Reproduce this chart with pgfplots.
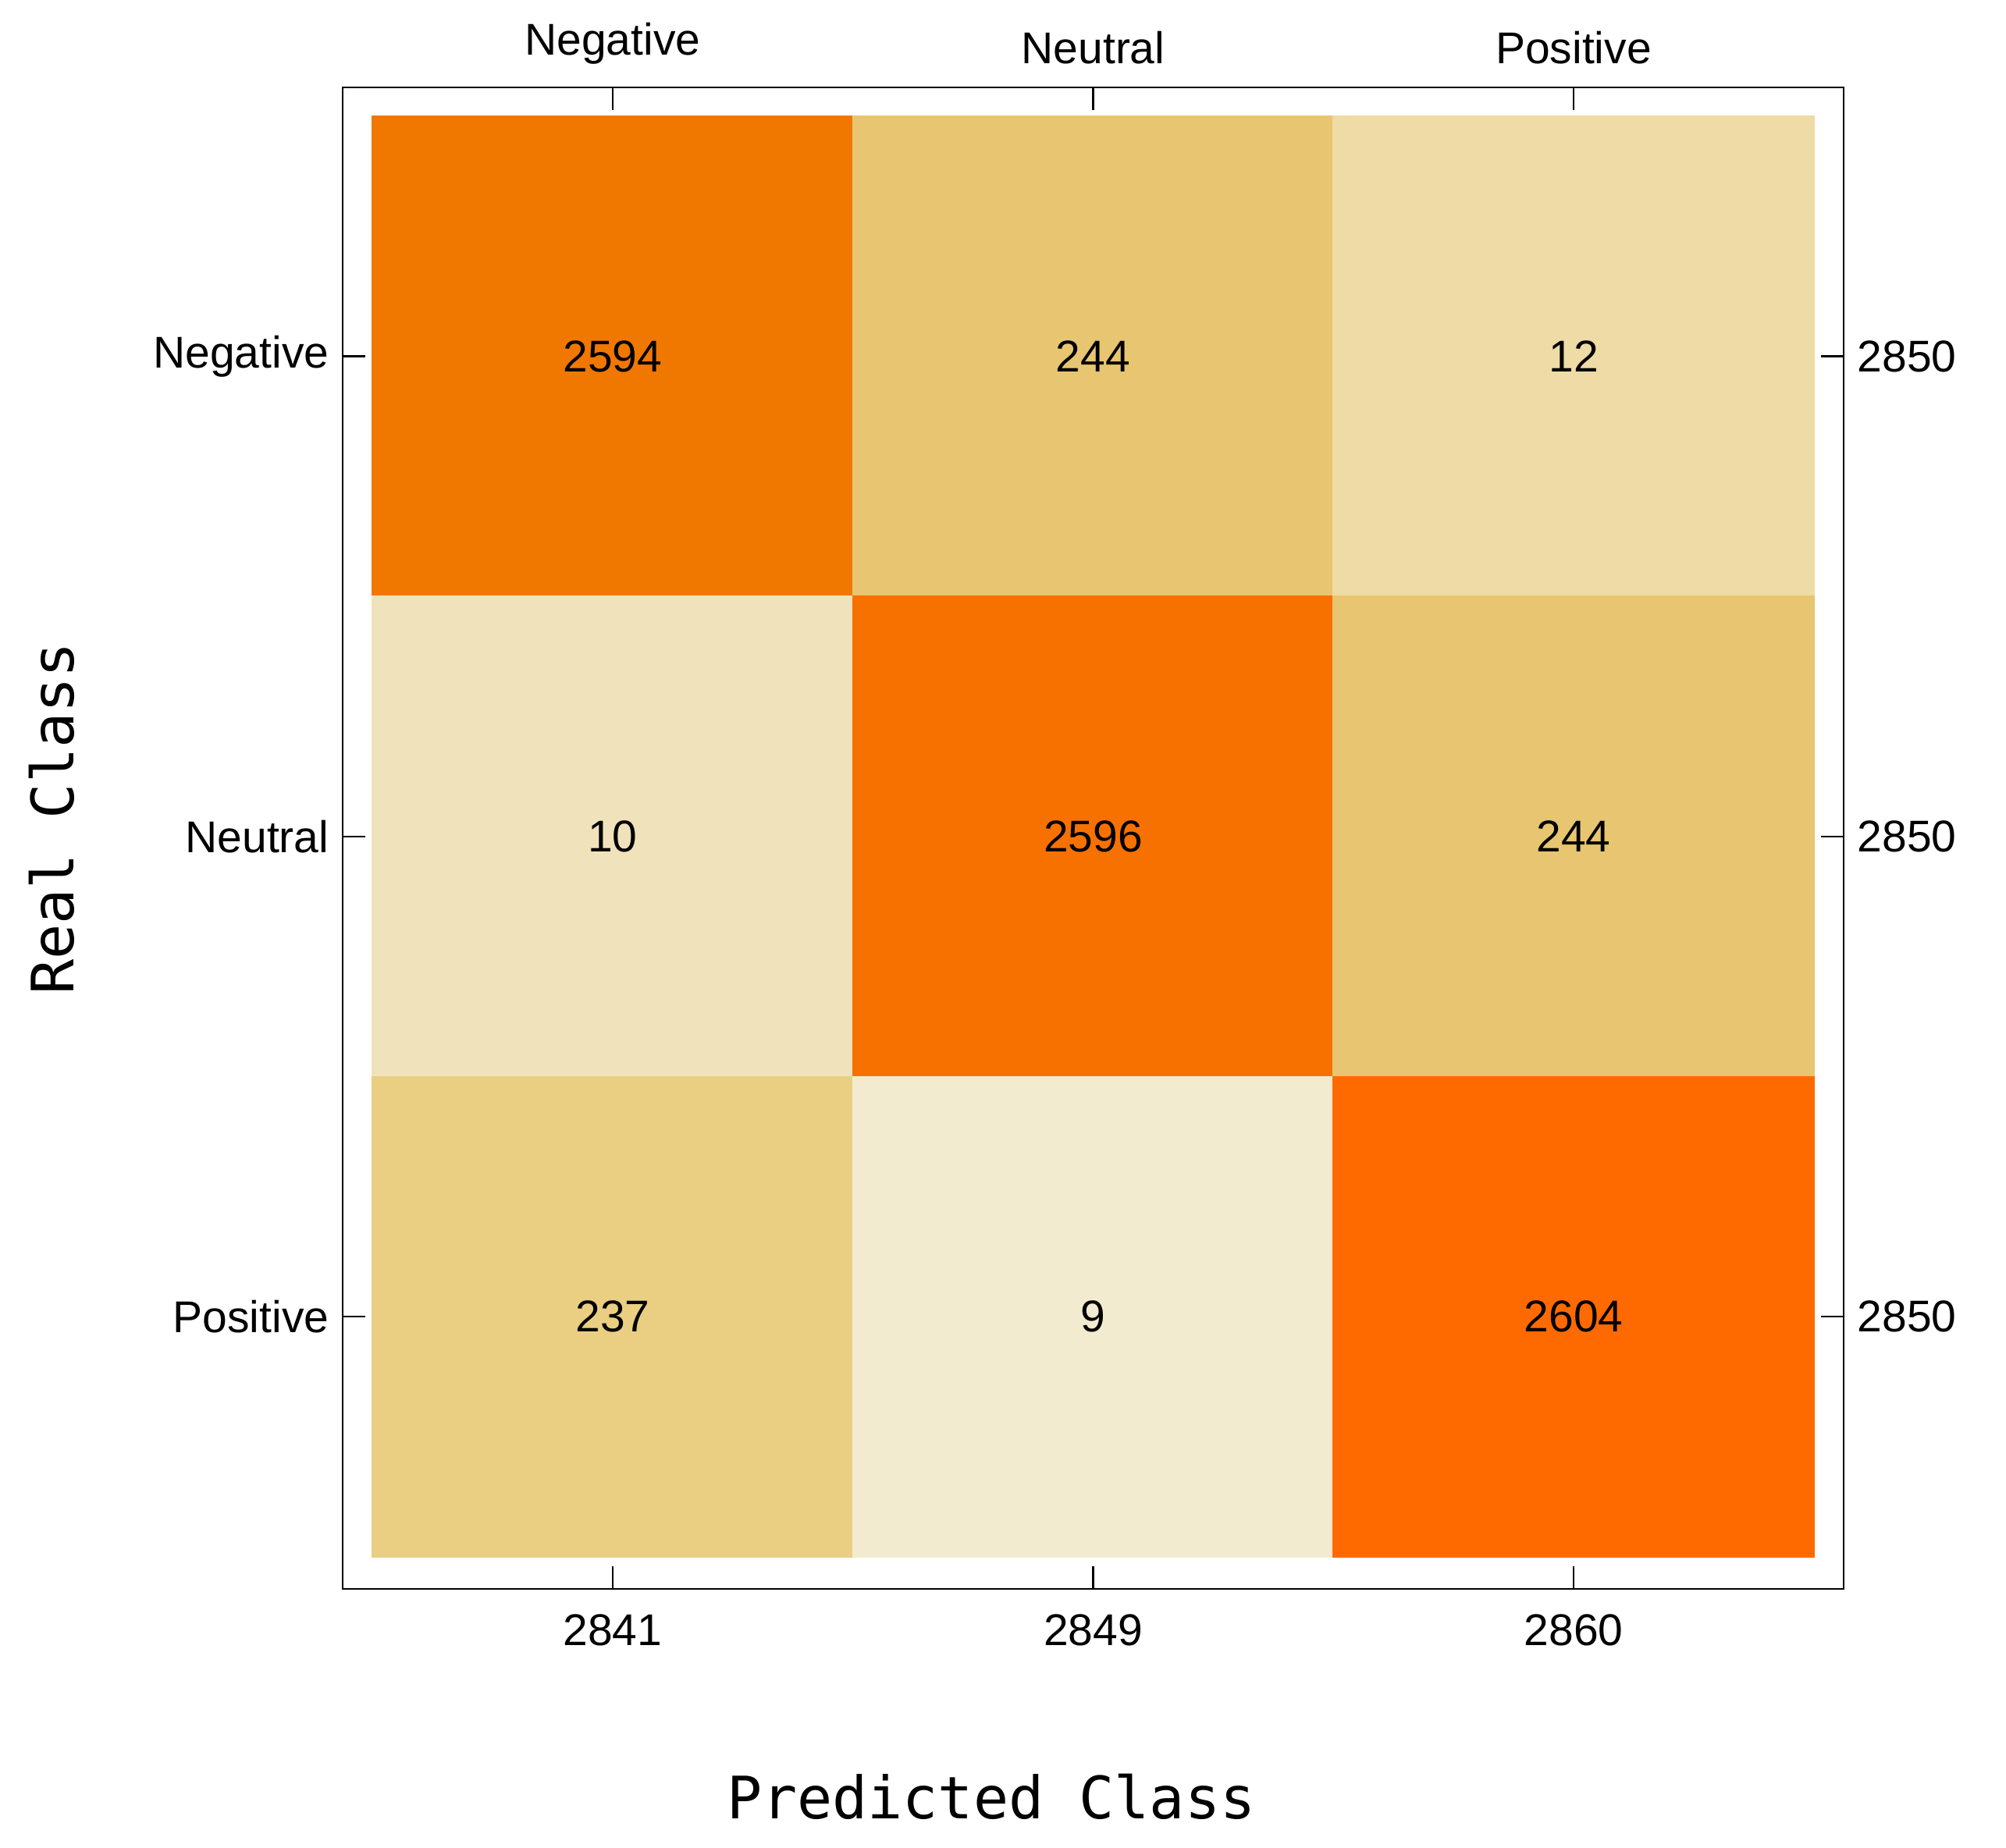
\documentclass[border=0pt]{standalone}
\usepackage{fontspec}
\setmainfont{Liberation Sans}
\newfontfamily\monofont{DejaVu Sans Mono}
\usepackage{pgfplots}
\pgfplotsset{compat=1.18}

% counts and a colour index for each cell (row = real class, col = predicted)
\pgfplotstableread{
x y c n
0 0 0 2594
1 0 1 244
2 0 2 12
0 1 3 10
1 1 4 2596
2 1 1 244
0 2 5 237
1 2 6 9
2 2 7 2604
}\cmtable

\pgfplotsset{
  cmbase/.style={
    scale only axis,
    width=384.6pt, height=384.8pt,
    xmin=-0.562, xmax=2.562,
    ymin=-0.56, ymax=2.567,
    y dir=reverse,
    xtick={0,1,2}, ytick={0,1,2},
    tick align=inside,
    major tick length=5.8pt,
    axis line style={line width=0.45pt},
    every tick/.style={black, line width=0.45pt},
    tick label style={font=\fontsize{11.4}{13.7}\selectfont},
    /pgf/number format/assume math mode=true,
  },
}

\begin{document}
\begin{tikzpicture}
\begin{axis}[
  cmbase,
  xticklabels={2841,2849,2860},
  yticklabels={Negative,Neutral,Positive},
  xticklabel shift=3pt,
  xlabel={Predicted Class},
  ylabel={Real Class},
  xlabel style={font=\monofont\fontsize{15}{18}\selectfont, at={(axis description cs:0.432,-0.153)}, anchor=base},
  ylabel style={font=\monofont\fontsize{15}{18}\selectfont, at={(axis description cs:-0.179,0.513)}, anchor=base, rotate=0},
  colormap={cmcells}{
    rgb255=(240,120,0)
    rgb255=(232,197,112)
    rgb255=(238,219,165)
    rgb255=(240,227,187)
    rgb255=(247,113,0)
    rgb255=(234,207,130)
    rgb255=(242,235,208)
    rgb255=(255,106,0)
  },
  colormap access=direct,
]
\addplot[
  matrix plot*,
  mesh/cols=3,
  point meta=explicit,
  visualization depends on={\thisrow{n}\as\cnt},
  nodes near coords={\pgfmathprintnumber[fixed, precision=0, 1000 sep={}, assume math mode=true]{\cnt}},
  nodes near coords align={center},
  every node near coord/.append style={anchor=center, black, font=\fontsize{11.4}{13.7}\selectfont},
] table[x=x, y=y, meta=c] {\cmtable};
\end{axis}
\begin{axis}[
  cmbase,
  xticklabels={Negative,Neutral,Positive},
  yticklabels={2850,2850,2850},
  xticklabel pos=right,
  yticklabel pos=right,
  xticklabel shift=2.4pt,
  major tick length=0pt,
]
\end{axis}
\path (-87.8pt,-66.4pt) rectangle (426.2pt,407.2pt);
\end{tikzpicture}
\end{document}
